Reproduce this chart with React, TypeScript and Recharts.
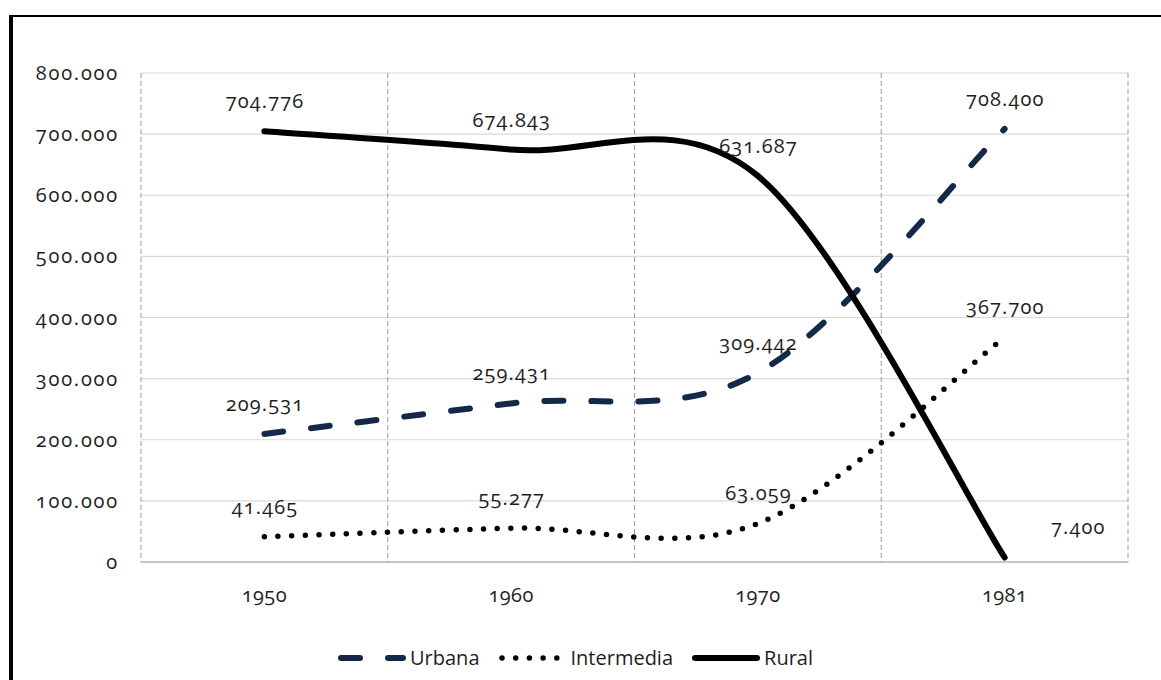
import React from 'react';
import { LineChart, Line, XAxis, YAxis, CartesianGrid, LabelList, Legend } from 'recharts';

const years = ['1950', '1960', '1970', '1981'];
const urbana = [209531, 259431, 309442, 708400];
const intermedia = [41465, 55277, 63059, 367700];
const rural = [704776, 674843, 631687, 7400];
const yTicks = [0, 100000, 200000, 300000, 400000, 500000, 600000, 700000, 800000];
const seriesNames = ['Urbana', 'Intermedia', 'Rural'];

const data = years.map((year, i) => ({
  year,
  urbana: urbana[i],
  intermedia: intermedia[i],
  rural: rural[i],
}));

const W = 1161;
const H = 680;
const LEFT = 141;
const RIGHT_MARGIN = 33;
const PLOT_W = W - LEFT - RIGHT_MARGIN;
const PAD = PLOT_W / (2 * years.length);

const NAVY = '#14294a';
const TEXT = '#1e1e1e';
const NUM_FONT = '"Open Sans", sans-serif';

const fmt = (v: number) => (v === 0 ? '0' : String(v).replace(/\B(?=(\d{3})+(?!\d))/g, '.'));

// Excel-like smoothed curve (uniform Catmull-Rom as cubic Bezier)
function excelCurve(context: any) {
  let pts: number[][] = [];
  return {
    areaStart() {},
    areaEnd() {},
    lineStart() {
      pts = [];
    },
    point(x: number, y: number) {
      pts.push([+x, +y]);
    },
    lineEnd() {
      const n = pts.length;
      if (!n) return;
      context.moveTo(pts[0][0], pts[0][1]);
      for (let i = 0; i < n - 1; i++) {
        const p0 = pts[Math.max(i - 1, 0)];
        const p1 = pts[i];
        const p2 = pts[i + 1];
        const p3 = pts[Math.min(i + 2, n - 1)];
        context.bezierCurveTo(
          p1[0] + (p2[0] - p0[0]) / 6,
          p1[1] + (p2[1] - p0[1]) / 6,
          p2[0] - (p3[0] - p1[0]) / 6,
          p2[1] - (p3[1] - p1[1]) / 6,
          p2[0],
          p2[1]
        );
      }
    },
  };
}

const series = [
  { key: 'urbana', name: seriesNames[0], color: NAVY, width: 6, dash: '19 28' },
  { key: 'intermedia', name: seriesNames[1], color: '#000000', width: 5.5, dash: '0 13.7' },
  { key: 'rural', name: seriesNames[2], color: '#000000', width: 6, dash: undefined as string | undefined },
];

const makeLabel = (shiftLast: boolean) => (props: any) => {
  const { x, y, value, index } = props;
  const right = shiftLast && index === years.length - 1;
  return (
    <text
      x={(right ? x + 73 : x) + 0.6}
      y={y - 23}
      textAnchor="middle"
      fill={TEXT}
      fontSize={20}
      fontFamily={NUM_FONT}
      letterSpacing={1.1}
      style={{ fontFeatureSettings: '"onum"' }}
    >
      {fmt(value)}
    </text>
  );
};

const LegendContent = () => (
  <div
    style={{
      display: 'flex',
      justifyContent: 'center',
      alignItems: 'center',
      height: 24,
      fontFamily: '"Open Sans", sans-serif',
      fontSize: 20,
      color: TEXT,
      paddingRight: 10,
    }}
  >
    {series.map((s, i) => (
      <div key={s.key} style={{ display: 'flex', alignItems: 'center', marginRight: i < series.length - 1 ? 19 : 0 }}>
        <svg width={68} height={12} style={{ display: 'block' }}>
          <line
            x1={3}
            y1={6}
            x2={65}
            y2={6}
            stroke={s.color}
            strokeWidth={s.width}
            strokeLinecap="round"
            strokeDasharray={s.dash}
          />
        </svg>
        <span style={{ marginLeft: 4, lineHeight: '24px' }}>{s.name}</span>
      </div>
    ))}
  </div>
);

export default function App() {
  return (
    <div style={{ position: 'absolute', left: 0, top: 0, width: W, height: H, background: '#fff' }}>
      <div
        style={{
          position: 'absolute',
          left: 9,
          top: 15,
          width: W - 9,
          height: H - 15,
          borderLeft: '4px solid #000',
          borderTop: '2px solid #000',
          boxSizing: 'border-box',
        }}
      />
      <div style={{ position: 'absolute', left: 0, top: 0 }}>
        <LineChart width={W} height={H} data={data} margin={{ top: 73, right: RIGHT_MARGIN, left: 0, bottom: 10 }}>
          <CartesianGrid vertical={false} stroke="#d9d9d9" strokeWidth={1.2} />
          <CartesianGrid
            horizontal={false}
            stroke="#9a9a9a"
            strokeDasharray="5 3"
            verticalCoordinatesGenerator={(p: any) =>
              [0, 1, 2, 3, 4].map((i) => p.offset.left + (i * p.offset.width) / years.length)
            }
          />
          <XAxis
            dataKey="year"
            height={84}
            padding={{ left: PAD, right: PAD }}
            tickLine={false}
            tickSize={0}
            tickMargin={26}
            axisLine={{ stroke: '#a0a0a0', strokeWidth: 1.2 }}
            tick={{ fill: TEXT, fontSize: 20, fontFamily: NUM_FONT, letterSpacing: 0.4, style: { fontFeatureSettings: '"onum"' } }}
          />
          <YAxis
            width={LEFT}
            domain={[0, 800000]}
            ticks={yTicks}
            tickFormatter={fmt}
            axisLine={false}
            tickLine={false}
            tickSize={0}
            tickMargin={22}
            tick={{ fill: TEXT, fontSize: 20, fontFamily: NUM_FONT, letterSpacing: 1.8, style: { fontFeatureSettings: '"onum"' } }}
          />
          <Legend verticalAlign="bottom" align="center" content={<LegendContent />} wrapperStyle={{ left: 0, width: W }} />
          {series.map((s) => (
            <Line
              key={s.key}
              dataKey={s.key}
              name={s.name}
              type={excelCurve as any}
              stroke={s.color}
              strokeWidth={s.width}
              strokeDasharray={s.dash}
              strokeLinecap="round"
              strokeLinejoin="round"
              dot={false}
              activeDot={false}
              isAnimationActive={false}
            >
              <LabelList dataKey={s.key} content={makeLabel(s.key === 'rural')} />
            </Line>
          ))}
        </LineChart>
      </div>
    </div>
  );
}
